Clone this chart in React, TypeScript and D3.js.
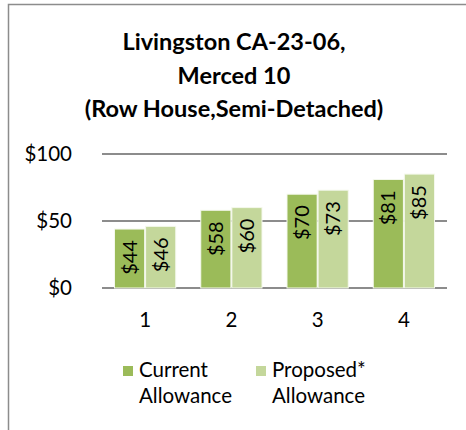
import React from "react";
import { scaleBand, scaleLinear } from "d3";

// chart data
const categories = ["1", "2", "3", "4"];
const seriesNames = ["Current\nAllowance", "Proposed*\nAllowance"];
const currentValues = [44, 58, 70, 81];
const proposedValues = [46, 60, 73, 85];
const yTicks = [0, 50, 100];
const titleLines = ["Livingston CA-23-06,", "Merced 10", "(Row House,Semi-Detached)"];

const colors = ["#9BBB59", "#C4D79B"];
const font = "Lato, 'Open Sans', sans-serif";

export default function App() {
  const width = 466;
  const height = 430;

  const xScale = scaleBand<string>()
    .domain(categories)
    .range([102, 447])
    .paddingInner(0.29)
    .paddingOuter(0.145);

  const inner = scaleBand<number>()
    .domain([0, 1])
    .range([0, xScale.bandwidth()])
    .paddingInner(0.03);

  const yScale = scaleLinear().domain([0, 100]).range([288, 154]);

  const series = [currentValues, proposedValues];

  return (
    <svg
      width={width}
      height={height}
      style={{ position: "absolute", left: 0, top: 0, background: "#fff" }}
    >
      {/* chart frame, partly cut off */}
      <rect x={8.5} y={4.5} width={600} height={600} fill="#fff" stroke="#8c8c8c" strokeWidth={1.5} />

      {/* title */}
      <text textAnchor="middle" fontFamily={font} fontWeight="bold" fontSize={23.5} fill="#000">
        {titleLines.map((line, i) => (
          <tspan key={i} x={234} y={50 + i * 33.5}>
            {line}
          </tspan>
        ))}
      </text>

      {/* gridlines + y labels */}
      {yTicks.map((t) => (
        <g key={t}>
          <line x1={102} x2={447} y1={yScale(t)} y2={yScale(t)} stroke="#8c8c8c" strokeWidth={2} />
          <text
            x={72}
            y={yScale(t)}
            dy="0.36em"
            textAnchor="end"
            fontFamily={font}
            fontSize={20.5}
            fill="#000"
          >
            ${t}
          </text>
        </g>
      ))}

      {/* bars */}
      {categories.map((c, ci) => (
        <g key={c} transform={`translate(${xScale(c)},0)`}>
          {series.map((vals, si) => {
            const x = inner(si)!;
            const y = yScale(vals[ci]);
            const w = inner.bandwidth();
            return (
              <g key={si}>
                <rect
                  x={x}
                  y={y}
                  width={w}
                  height={yScale(0) - y}
                  fill={colors[si]}
                  stroke="#f4f8ec"
                  strokeWidth={1}
                />
                <text
                  transform={`translate(${x + w / 2},${y + 11}) rotate(-90)`}
                  textAnchor="end"
                  dy="0.35em"
                  fontFamily={font}
                  fontSize={20}
                  fill="#000"
                >
                  ${vals[ci]}
                </text>
              </g>
            );
          })}
          <text
            x={xScale.bandwidth() / 2}
            y={327}
            textAnchor="middle"
            fontFamily={font}
            fontSize={20.5}
            fill="#000"
          >
            {c}
          </text>
        </g>
      ))}

      {/* legend */}
      {seriesNames.map((name, i) => {
        const lx = 123 + i * 133;
        return (
          <g key={i}>
            <rect x={lx} y={366} width={10} height={10} fill={colors[i]} />
            <text fontFamily={font} fontSize={20.5} fill="#000">
              {name.split("\n").map((part, j) => (
                <tspan key={j} x={lx + 16} y={377 + j * 26}>
                  {part}
                </tspan>
              ))}
            </text>
          </g>
        );
      })}
    </svg>
  );
}
